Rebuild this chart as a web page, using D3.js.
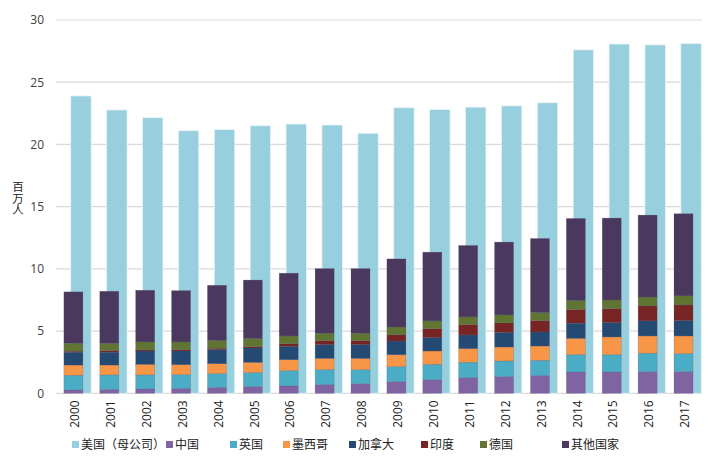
<!DOCTYPE html>
<html><head><meta charset="utf-8">
<script src="https://cdn.jsdelivr.net/npm/d3@7"></script>
<style>
html,body{margin:0;padding:0;background:#fff;}
svg{display:block;font-family:"Open Sans","Noto Sans CJK SC",sans-serif;}
</style></head>
<body>
<svg id="chart" width="714" height="456"></svg>
<script>
const years = ["2000","2001","2002","2003","2004","2005","2006","2007","2008","2009","2010","2011","2012","2013","2014","2015","2016","2017"];
const usParent = [23.9,22.77,22.15,21.1,21.2,21.5,21.64,21.56,20.9,22.95,22.8,23.0,23.1,23.35,27.6,28.07,28.0,28.1];
const china   = [0.27,0.30,0.35,0.38,0.46,0.54,0.59,0.69,0.77,0.93,1.09,1.26,1.34,1.42,1.71,1.71,1.74,1.74];
const uk      = [1.18,1.18,1.13,1.12,1.12,1.12,1.23,1.21,1.13,1.21,1.24,1.23,1.26,1.23,1.39,1.39,1.48,1.45];
const mexico  = [0.82,0.79,0.85,0.80,0.80,0.83,0.88,0.91,0.91,0.96,1.07,1.10,1.12,1.15,1.32,1.43,1.39,1.42];
const canada  = [1.03,1.03,1.07,1.10,1.13,1.15,1.08,1.10,1.10,1.10,1.07,1.10,1.16,1.13,1.21,1.15,1.21,1.23];
const india   = [0.08,0.13,0.09,0.11,0.11,0.11,0.21,0.32,0.32,0.49,0.72,0.83,0.78,0.91,1.10,1.13,1.20,1.26];
const germany = [0.64,0.59,0.64,0.62,0.62,0.65,0.62,0.60,0.60,0.64,0.63,0.62,0.64,0.65,0.72,0.69,0.72,0.73];
const others  = [4.13,4.18,4.15,4.12,4.44,4.70,5.04,5.19,5.19,5.47,5.52,5.74,5.85,5.95,6.60,6.58,6.58,6.60];
const yTicks = [0,5,10,15,20,25,30];
const seriesNames = ["美国（母公司）","中国","英国","墨西哥","加拿大","印度","德国","其他国家"];
const seriesColors = ["#98CFDE","#8064A2","#4BACC6","#F79646","#244A73","#772424","#5F7531","#4A385E"];
const yTitle = "百万人";

(function(){
const stackKeys = ["china","uk","mexico","canada","india","germany","others"];
const stackArrays = {china, uk, mexico, canada, india, germany, others};
const table = years.map((yr,i)=>{
  const row = {year:yr, us: usParent[i]};
  stackKeys.forEach(k=>row[k]=stackArrays[k][i]);
  return row;
});

const svg = d3.select("#chart");
const pL = 56, pR = 702, pT = 20, pB = 393.3;

const x = d3.scaleBand().domain(years).range([pL,pR]).padding(0);
const y = d3.scaleLinear().domain([0,30]).range([pB, pT]);
const bw = x.bandwidth();

// gridlines
svg.append("g").selectAll("line").data(yTicks).join("line")
  .attr("x1",pL).attr("x2",pR)
  .attr("y1",d=>y(d)).attr("y2",d=>y(d))
  .attr("stroke","#d9d9d9").attr("stroke-width",1.2);

// y axis labels
const yAxis = d3.axisLeft(y).tickValues(yTicks).tickSize(0).tickPadding(0);
const gy = svg.append("g").attr("transform",`translate(44,0)`).call(yAxis);
gy.select(".domain").remove();
gy.selectAll("text").attr("font-size",12).attr("fill","#404040").attr("font-family","'Open Sans',sans-serif");

// y title, vertical writing (upright CJK characters)
svg.append("text")
  .attr("font-family","'Noto Sans CJK SC',sans-serif")
  .attr("font-size",11.5).attr("fill","#222")
  .style("writing-mode","vertical-rl").style("text-orientation","upright")
  .attr("x",18).attr("y",181).text(yTitle);

// US parent bars (behind)
svg.append("g").selectAll("rect").data(table).join("rect")
  .attr("x",d=>x(d.year)+bw*0.41)
  .attr("width",bw*0.57)
  .attr("y",d=>y(d.us))
  .attr("height",d=>y(0)-y(d.us))
  .attr("fill",seriesColors[0])
  .attr("stroke","#e8f4f8").attr("stroke-width",0.8);

// stacked bars
const stacked = d3.stack().keys(stackKeys)(table);
svg.append("g").selectAll("g").data(stacked).join("g")
  .attr("fill",(d,i)=>seriesColors[i+1])
  .selectAll("rect").data(d=>d).join("rect")
  .attr("x",d=>x(d.data.year)+bw*0.22)
  .attr("width",bw*0.53)
  .attr("y",d=>y(d[1]))
  .attr("height",d=>y(d[0])-y(d[1]))
  .attr("stroke","rgba(90,80,110,0.35)").attr("stroke-width",0.6);

// x axis labels
const xAxis = d3.axisBottom(x).tickSize(0).tickPadding(0);
const gx = svg.append("g").attr("transform",`translate(0,${pB})`).call(xAxis);
gx.select(".domain").remove();
gx.selectAll("text")
  .attr("font-size",12).attr("fill","#222").attr("font-family","'Open Sans',sans-serif")
  .attr("text-anchor","end")
  .attr("transform","translate(1,7) rotate(-90)")
  .attr("dy","0.35em").attr("y",0).attr("x",0);

// legend
const legendX = [72,166,230,283,349,421,480,562];
const lg = svg.append("g").attr("font-family","'Noto Sans CJK SC',sans-serif");
seriesNames.forEach((n,i)=>{
  lg.append("rect").attr("x",legendX[i]).attr("y",441).attr("width",7).attr("height",7).attr("fill",seriesColors[i]);
  lg.append("text").attr("x",legendX[i]+9).attr("y",448.5).attr("font-size",12).attr("fill","#222").text(n);
});
})();
</script>
</body></html>
